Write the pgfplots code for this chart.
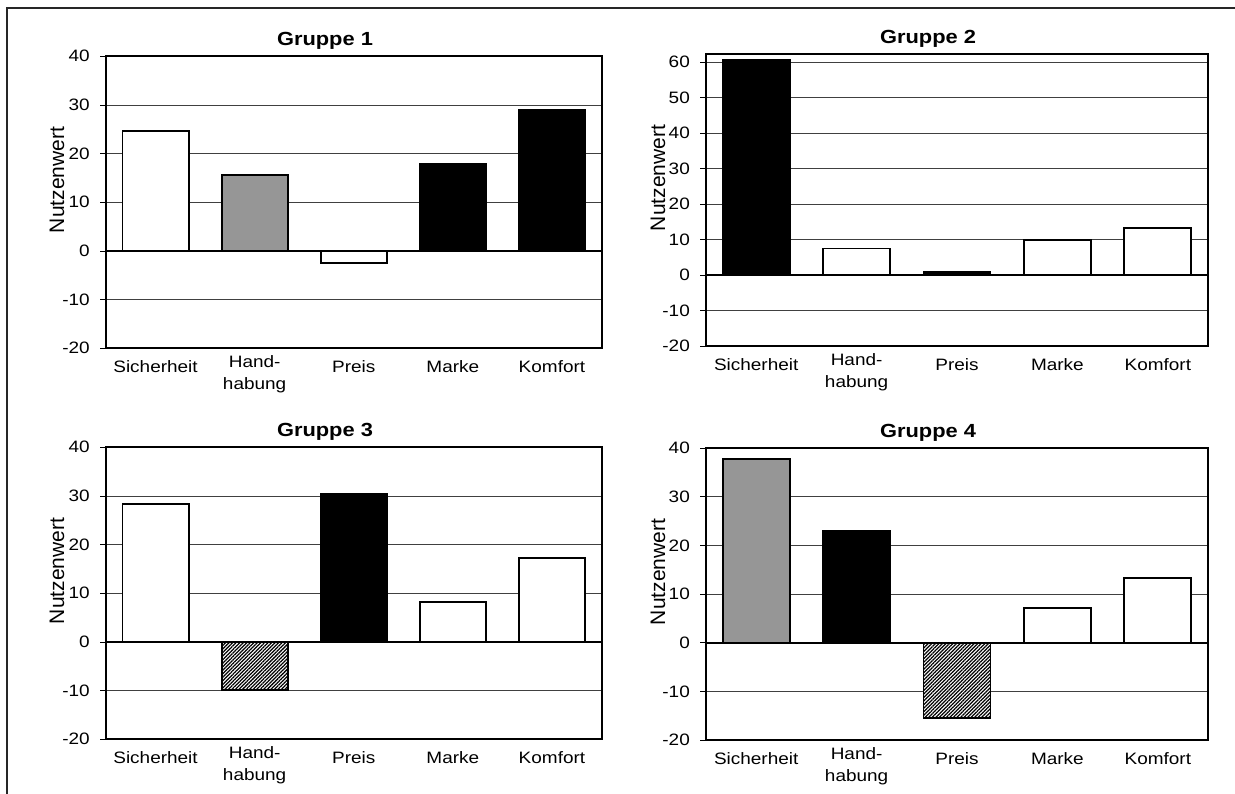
\documentclass[border=0pt]{standalone}
\usepackage{fontspec}
\setmainfont{Liberation Sans}[FakeStretch=1.15]
\newfontfamily\plainsans{Liberation Sans}
\usepackage{pgfplots}
\pgfplotsset{compat=1.18}
\usetikzlibrary{patterns.meta}

\definecolor{midgray}{RGB}{150,150,150}

\newcommand{\ticksize}{\fontsize{16.5bp}{22bp}\selectfont}
\newcommand{\twoline}[2]{\raisebox{-17bp}{\begin{tabular}[b]{@{}c@{}}#1\\#2\end{tabular}}}

\pgfplotsset{
  panel/.style={
    scale only axis, height=292bp,
    xmin=-0.5, xmax=4.5, ymin=-20,
    xtick={0,...,4},
    xticklabels={Sicherheit,{\twoline{Hand-}{habung}},Preis,Marke,Komfort},
    ytick distance=10,
    ymajorgrids, major grid style={black!75, line width=0.8bp},
    axis line style={line width=2bp},
    tick align=outside, ytick pos=left, major tick length=6bp,
    xtick style={draw=none}, ytick style={black, line width=0.8bp},
    tick label style={font=\ticksize},
    xticklabel style={anchor=base, inner sep=0pt, yshift=-18.7bp},
    yticklabel style={anchor=east, inner sep=0pt, xshift=-10bp},
    /pgf/number format/assume math mode=true,
    ybar, bar width=0.667,
    every axis plot/.append style={bar shift=0pt},
  },
  barframe/.style={draw=black, line width=1.8bp},
  whitebar/.style={barframe, fill=white},
  graybar/.style={barframe, fill=midgray},
  blackbar/.style={barframe, fill=black},
  hatchbar/.style={barframe, fill=white, postaction={pattern={Lines[angle=45, distance=2.5bp, line width=1.25bp]}, pattern color=black}},
}

\begin{document}
\begin{tikzpicture}[x=1bp, y=1bp]
\useasboundingbox (0,0) rectangle (1235,794);
\draw[line width=2.2bp, black!85] (7.3,0) -- (7.3,785.7) -- (1235,785.7);

% Gruppe 1
\begin{axis}[panel, at={(106bp,445.7bp)}, anchor=south west, width=495.5bp, ymax=40]
  \addplot[whitebar] coordinates {(0,24.7) (2,-2.4)};
  \addplot[graybar]  coordinates {(1,15.6)};
  \addplot[blackbar] coordinates {(3,17.8) (4,28.9)};
  \draw[line width=2bp] (axis cs:-0.5,0) -- (axis cs:4.5,0);
\end{axis}

% Gruppe 2
\begin{axis}[panel, at={(706bp,448bp)}, anchor=south west, width=502bp, ymax=62.3]
  \addplot[whitebar] coordinates {(1,7.5) (3,9.9) (4,13.2)};
  \addplot[blackbar] coordinates {(0,60.6) (2,0.8)};
  \draw[line width=2bp] (axis cs:-0.5,0) -- (axis cs:4.5,0);
\end{axis}

% Gruppe 3
\begin{axis}[panel, at={(106bp,54.7bp)}, anchor=south west, width=495.5bp, ymax=40]
  \addplot[whitebar] coordinates {(0,28.3) (3,8.2) (4,17.2)};
  \addplot[hatchbar] coordinates {(1,-9.9)};
  \addplot[blackbar] coordinates {(2,30.5)};
  \draw[line width=2bp] (axis cs:-0.5,0) -- (axis cs:4.5,0);
\end{axis}

% Gruppe 4
\begin{axis}[panel, at={(706bp,54bp)}, anchor=south west, width=502bp, ymax=40]
  \addplot[graybar]  coordinates {(0,37.8)};
  \addplot[blackbar] coordinates {(1,22.9)};
  \addplot[hatchbar] coordinates {(2,-15.5)};
  \addplot[whitebar] coordinates {(3,7.1) (4,13.3)};
  \draw[line width=2bp] (axis cs:-0.5,0) -- (axis cs:4.5,0);
\end{axis}

% titles and axis labels
\begin{scope}[every node/.style={inner sep=0pt}]
  \node[anchor=base, font=\bfseries\fontsize{19bp}{22bp}\selectfont] at (325,748) {Gruppe 1};
  \node[anchor=base, font=\bfseries\fontsize{19bp}{22bp}\selectfont] at (928,750) {Gruppe 2};
  \node[anchor=base, font=\bfseries\fontsize{19bp}{22bp}\selectfont] at (325,357) {Gruppe 3};
  \node[anchor=base, font=\bfseries\fontsize{19bp}{22bp}\selectfont] at (928,356) {Gruppe 4};
  \node[rotate=90, font=\plainsans\fontsize{21bp}{25bp}\selectfont] at (57,614) {Nutzenwert};
  \node[rotate=90, font=\plainsans\fontsize{21bp}{25bp}\selectfont] at (658,616) {Nutzenwert};
  \node[rotate=90, font=\plainsans\fontsize{21bp}{25bp}\selectfont] at (57,223) {Nutzenwert};
  \node[rotate=90, font=\plainsans\fontsize{21bp}{25bp}\selectfont] at (658,222) {Nutzenwert};
\end{scope}
\end{tikzpicture}
\end{document}
